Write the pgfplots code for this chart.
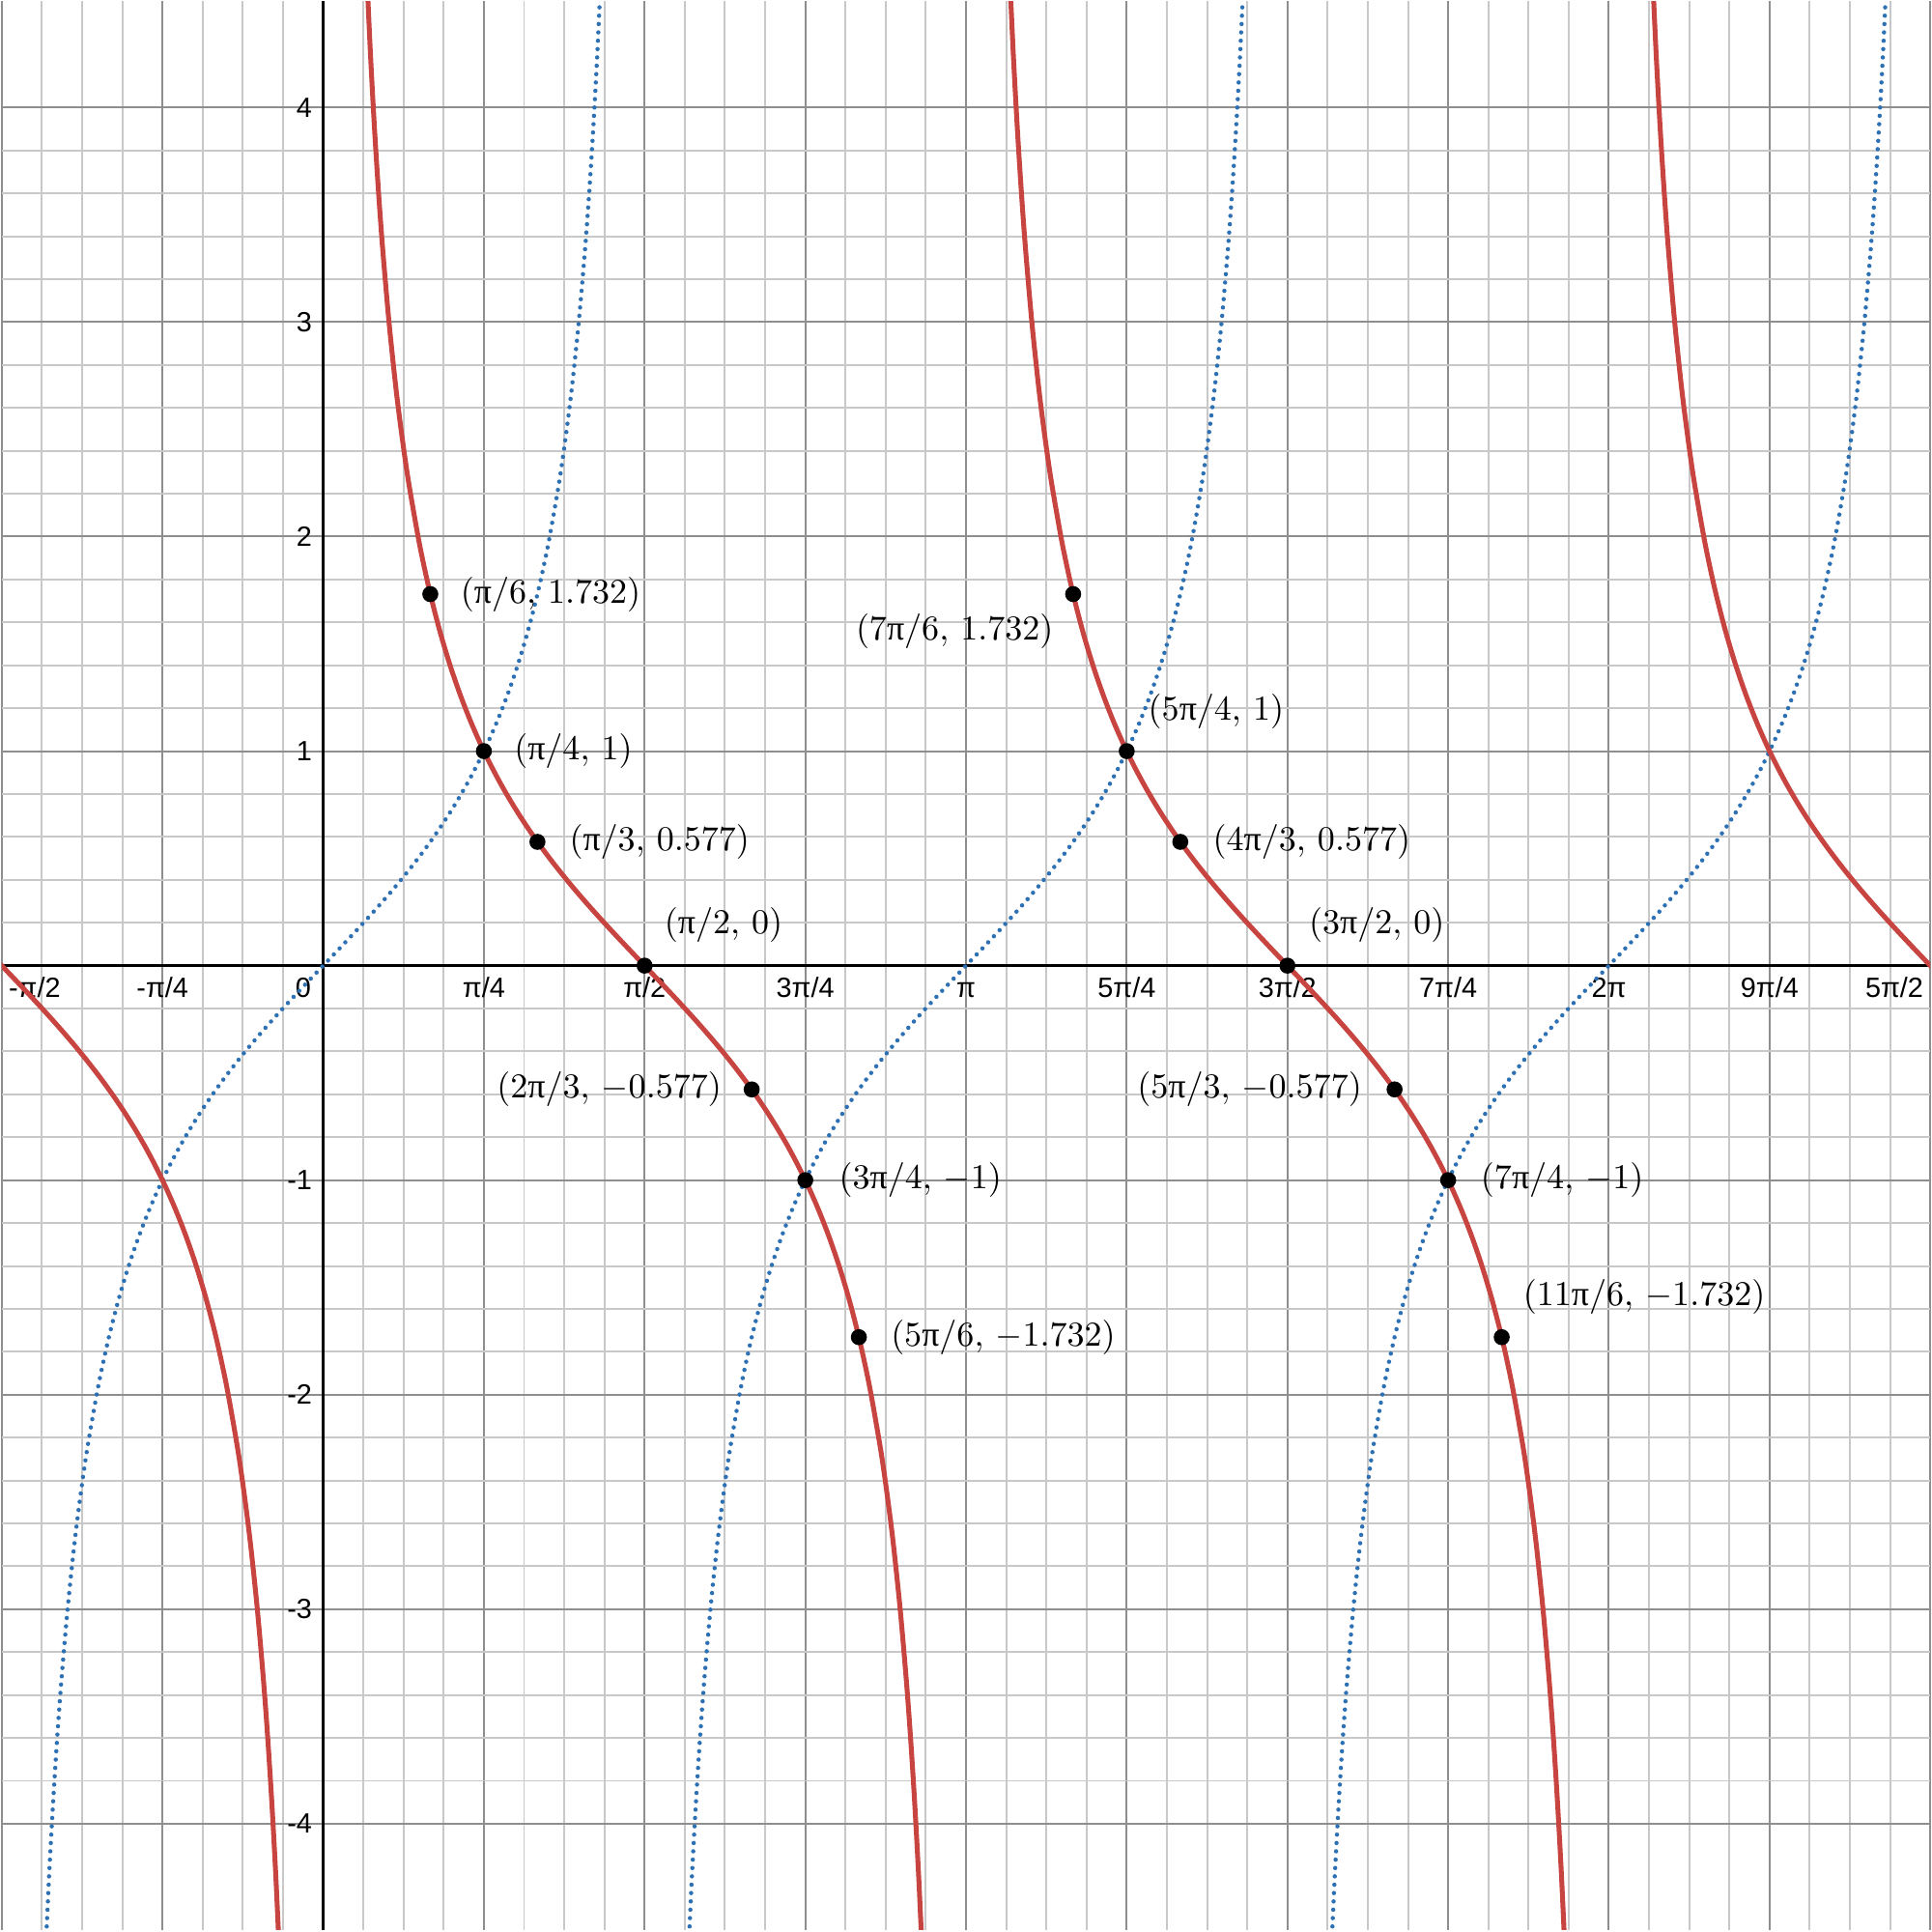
\documentclass[border=0pt]{standalone}
\usepackage{pgfplots}
\pgfplotsset{compat=1.18}
\usepackage{pgfplotstable}
\usepackage{fontspec}
\newfontfamily\tickfont{Liberation Sans}
\newfontfamily\serifpi{Liberation Serif}
\newcommand{\upi}{\mbox{\serifpi π}}
\definecolor{dred}{HTML}{C74440}
\definecolor{dblue}{HTML}{2D70B3}
\definecolor{majgrid}{HTML}{8E8E8E}
\definecolor{mingrid}{HTML}{C8C8C8}

% tan(t) on one branch, t in radians
\pgfplotstableread{
t y
-1.36 -4.6733
-1.34 -4.2555
-1.32 -3.9033
-1.30 -3.6021
-1.28 -3.3414
-1.25 -3.0096
-1.22 -2.7327
-1.20 -2.5722
-1.175 -2.3932
-1.15 -2.2345
-1.10 -1.9648
-1.05 -1.7433
-1.00 -1.5574
-0.95 -1.3984
-0.90 -1.2602
-0.85 -1.1383
-0.80 -1.0296
-0.75 -0.9316
-0.70 -0.8423
-0.65 -0.7602
-0.60 -0.6841
-0.55 -0.6131
-0.50 -0.5463
-0.45 -0.4831
-0.40 -0.4228
-0.35 -0.3650
-0.30 -0.3093
-0.25 -0.2553
-0.20 -0.2027
-0.15 -0.1511
-0.10 -0.1003
-0.05 -0.0500
0.00 0.0000
0.05 0.0500
0.10 0.1003
0.15 0.1511
0.20 0.2027
0.25 0.2553
0.30 0.3093
0.35 0.3650
0.40 0.4228
0.45 0.4831
0.50 0.5463
0.55 0.6131
0.60 0.6841
0.65 0.7602
0.70 0.8423
0.75 0.9316
0.80 1.0296
0.85 1.1383
0.90 1.2602
0.95 1.3984
1.00 1.5574
1.05 1.7433
1.10 1.9648
1.15 2.2345
1.175 2.3932
1.20 2.5722
1.22 2.7327
1.25 3.0096
1.28 3.3414
1.30 3.6021
1.32 3.9033
1.34 4.2555
1.36 4.6733
}\tantable

\begin{document}
\begin{tikzpicture}
\begin{axis}[
  width=554pt, height=554pt, scale only axis,
  xmin=-1.570796, xmax=7.853982, ymin=-4.495, ymax=4.495,
  axis lines=middle,
  axis line style={-, black, line width=0.8pt},
  hide obscured x ticks=false, hide obscured y ticks=false,
  xtick={-1.570796,-0.785398,0,0.785398,1.570796,2.356194,3.141593,3.926991,4.712389,5.497787,6.283185,7.068583,7.853982},
  xticklabels={\makebox[0pt][l]{\hspace{2pt}-π/2},-π/4,\makebox[0pt][r]{0\hspace{3.5pt}},π/4,π/2,3π/4,π,5π/4,3π/2,7π/4,2π,9π/4,\makebox[0pt][r]{5π/2\hspace{2pt}}},
  minor x tick num=3,
  ytick={-4,-3,-2,-1,0,1,2,3,4},
  yticklabels={-4,-3,-2,-1,,1,2,3,4},
  minor y tick num=4,
  grid=both,
  major grid style={majgrid, line width=0.55pt},
  minor grid style={mingrid, line width=0.55pt},
  major tick length=0pt, minor tick length=0pt,
  tick label style={font=\tickfont\fontsize{8}{9}\selectfont, inner sep=0pt},
  xticklabel style={anchor=north, yshift=-3pt, text height=5.8pt, text depth=1.2pt},
  yticklabel style={anchor=east, xshift=-3pt},
]
% tan branches (blue dotted)
\addplot[dblue, line width=1.25pt, line cap=round, dash pattern=on 0pt off 2.4pt, smooth] table[x expr=\thisrow{t}, y=y] {\tantable};
\addplot[dblue, line width=1.25pt, line cap=round, dash pattern=on 0pt off 2.4pt, smooth] table[x expr=\thisrow{t}+3.141593, y=y] {\tantable};
\addplot[dblue, line width=1.25pt, line cap=round, dash pattern=on 0pt off 2.4pt, smooth] table[x expr=\thisrow{t}+6.283185, y=y] {\tantable};
% cot branches (red)
\addplot[dred, line width=1.4pt, smooth] table[x expr=\thisrow{t}-1.570796, y expr=-\thisrow{y}] {\tantable};
\addplot[dred, line width=1.4pt, smooth] table[x expr=\thisrow{t}+1.570796, y expr=-\thisrow{y}] {\tantable};
\addplot[dred, line width=1.4pt, smooth] table[x expr=\thisrow{t}+4.712389, y expr=-\thisrow{y}] {\tantable};
\addplot[dred, line width=1.4pt, smooth] table[x expr=\thisrow{t}+7.853982, y expr=-\thisrow{y}] {\tantable};
% points
\addplot[only marks, mark=*, mark size=2.1pt, black] coordinates {
(0.523599,1.732) (0.785398,1) (1.047198,0.577) (1.570796,0) (2.094395,-0.577) (2.356194,-1) (2.617994,-1.732)
(3.665191,1.732) (3.926991,1) (4.188790,0.577) (4.712389,0) (5.235988,-0.577) (5.497787,-1) (5.759587,-1.732)
};
\begin{scope}[every node/.style={inner sep=0pt, font=\fontsize{10}{12}\selectfont}]
\node[anchor=west, xshift=8.5pt] at (axis cs:0.523599,1.732) {$(\upi/6,\,1.732)$};
\node[anchor=west, xshift=8.5pt] at (axis cs:0.785398,1) {$(\upi/4,\,1)$};
\node[anchor=west, xshift=9pt] at (axis cs:1.047198,0.577) {$(\upi/3,\,0.577)$};
\node[anchor=west, xshift=5.5pt, yshift=11.7pt] at (axis cs:1.570796,0) {$(\upi/2,\,0)$};
\node[anchor=east, xshift=-8.5pt] at (axis cs:2.094395,-0.577) {$(2\upi/3,\,-0.577)$};
\node[anchor=west, xshift=9.5pt] at (axis cs:2.356194,-1) {$(3\upi/4,\,-1)$};
\node[anchor=west, xshift=9pt] at (axis cs:2.617994,-1.732) {$(5\upi/6,\,-1.732)$};
\node[anchor=east, xshift=-5.5pt, yshift=-10.6pt] at (axis cs:3.665191,1.732) {$(7\upi/6,\,1.732)$};
\node[anchor=west, xshift=6pt, yshift=11.3pt] at (axis cs:3.926991,1) {$(5\upi/4,\,1)$};
\node[anchor=west, xshift=9.2pt] at (axis cs:4.188790,0.577) {$(4\upi/3,\,0.577)$};
\node[anchor=west, xshift=6pt, yshift=11.7pt] at (axis cs:4.712389,0) {$(3\upi/2,\,0)$};
\node[anchor=east, xshift=-9.2pt] at (axis cs:5.235988,-0.577) {$(5\upi/3,\,-0.577)$};
\node[anchor=west, xshift=9.2pt] at (axis cs:5.497787,-1) {$(7\upi/4,\,-1)$};
\node[anchor=west, xshift=6pt, yshift=11.7pt] at (axis cs:5.759587,-1.732) {$(11\upi/6,\,-1.732)$};
\end{scope}
\end{axis}
\end{tikzpicture}
\end{document}
